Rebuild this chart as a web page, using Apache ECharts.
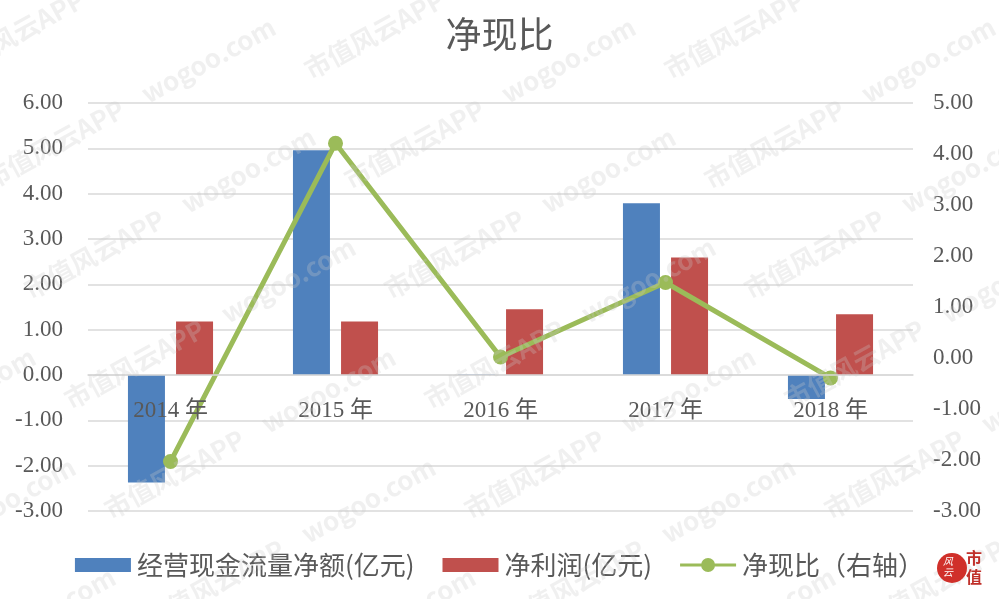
<!DOCTYPE html>
<html><head><meta charset="utf-8">
<script src="https://cdn.jsdelivr.net/npm/echarts@6/dist/echarts.min.js"></script>
<style>html,body{margin:0;padding:0;background:#fff}#c{width:999px;height:599px}</style>
</head><body><div id="c"></div>
<script>
const categories = ['2014 年','2015 年','2016 年','2017 年','2018 年'];
const cashFlow = [-2.37, 4.96, 0.01, 3.79, -0.53];
const netProfit = [1.18, 1.18, 1.45, 2.59, 1.34];
const ratio = [-2.03, 4.21, 0.02, 1.48, -0.39];
const leftTicks = {min: -3, max: 6, interval: 1};
const rightTicks = {min: -3, max: 5, interval: 1};

const chart = echarts.init(document.getElementById('c'), null, {renderer: 'canvas'});
const serif = '"Liberation Serif","Noto Sans CJK SC",serif';
const txt = '#595959';

// watermark
const wm = [];
const wmText = '市值风云APP    wogoo.com    ';
for (let r = -3; r < 8; r++) {
  for (let k = -1; k < 4; k++) {
    wm.push({
      type: 'text', silent: true, z: 100,
      x: k * 360 + r * 40 - 60, y: r * 110 + 60,
      rotation: 0.5,
      style: {text: wmText, fill: 'rgba(200,200,200,0.28)', font: 'bold 26px "Noto Sans CJK SC", sans-serif'}
    });
  }
}
wm.push({type: 'circle', shape: {cx: 952, cy: 568, r: 15}, style: {fill: '#d0302a'}, z: 101});
wm.push({type: 'text', x: 943, y: 556, style: {text: '风\n云', fill: '#fff', font: 'italic 10px "Noto Sans CJK SC"', lineHeight: 11}, z: 102});
wm.push({type: 'text', x: 966, y: 548, style: {text: '市\n值', fill: '#c0302a', font: 'bold 16px "Noto Sans CJK SC"', lineHeight: 19}, z: 102});

const lineIcon = 'path://M0,5.5 L56,5.5 L56,8.5 L0,8.5 Z M21,7 A7,7 0 1,1 35,7 A7,7 0 1,1 21,7 Z';

chart.setOption({
  backgroundColor: '#fff',
  animation: false,
  title: {text: '净现比', left: 'center', top: 11,
    textStyle: {fontFamily: '"Noto Sans CJK SC",serif', fontWeight: 'normal', fontSize: 36, color: txt}},
  legend: {
    bottom: 16, left: 'center', itemGap: 28, itemWidth: 56, itemHeight: 14,
    textStyle: {fontFamily: '"Noto Sans CJK SC",' + serif, fontSize: 26, color: txt, padding: [0, 0, 0, 1]},
    data: [{name: '经营现金流量净额(亿元)', icon: 'rect'}, {name: '净利润(亿元)', icon: 'rect'}, {name: '净现比（右轴）', icon: lineIcon}]
  },
  grid: {left: 88, right: 86, top: 103, bottom: 88},
  xAxis: {
    type: 'category', data: categories, z: 10,
    axisLine: {lineStyle: {color: '#d9d9d9', width: 1.5}},
    axisTick: {show: false},
    axisLabel: {fontFamily: serif, fontSize: 23, color: txt, margin: -112, interval: 0}
  },
  yAxis: [
    {type: 'value', min: leftTicks.min, max: leftTicks.max, interval: leftTicks.interval,
     axisLine: {show: false}, axisTick: {show: false},
     splitLine: {lineStyle: {color: '#d9d9d9', width: 1.5}},
     axisLabel: {fontFamily: serif, fontSize: 23, color: txt, margin: 25, formatter: v => v.toFixed(2)}},
    {type: 'value', min: rightTicks.min, max: rightTicks.max, interval: rightTicks.interval,
     axisLine: {show: false}, axisTick: {show: false}, splitLine: {show: false},
     axisLabel: {fontFamily: serif, fontSize: 23, color: txt, margin: 20, formatter: v => v.toFixed(2)}}
  ],
  series: [
    {name: '经营现金流量净额(亿元)', type: 'bar', data: cashFlow, barWidth: 37, barGap: '30%',
     itemStyle: {color: '#4F81BD'}},
    {name: '净利润(亿元)', type: 'bar', data: netProfit, barWidth: 37,
     itemStyle: {color: '#C0504D'}},
    {name: '净现比（右轴）', type: 'line', yAxisIndex: 1, data: ratio, z: 5,
     symbol: 'circle', symbolSize: 15,
     lineStyle: {color: '#9BBB59', width: 5}, itemStyle: {color: '#9BBB59'}}
  ],
  graphic: wm
});
</script></body></html>
